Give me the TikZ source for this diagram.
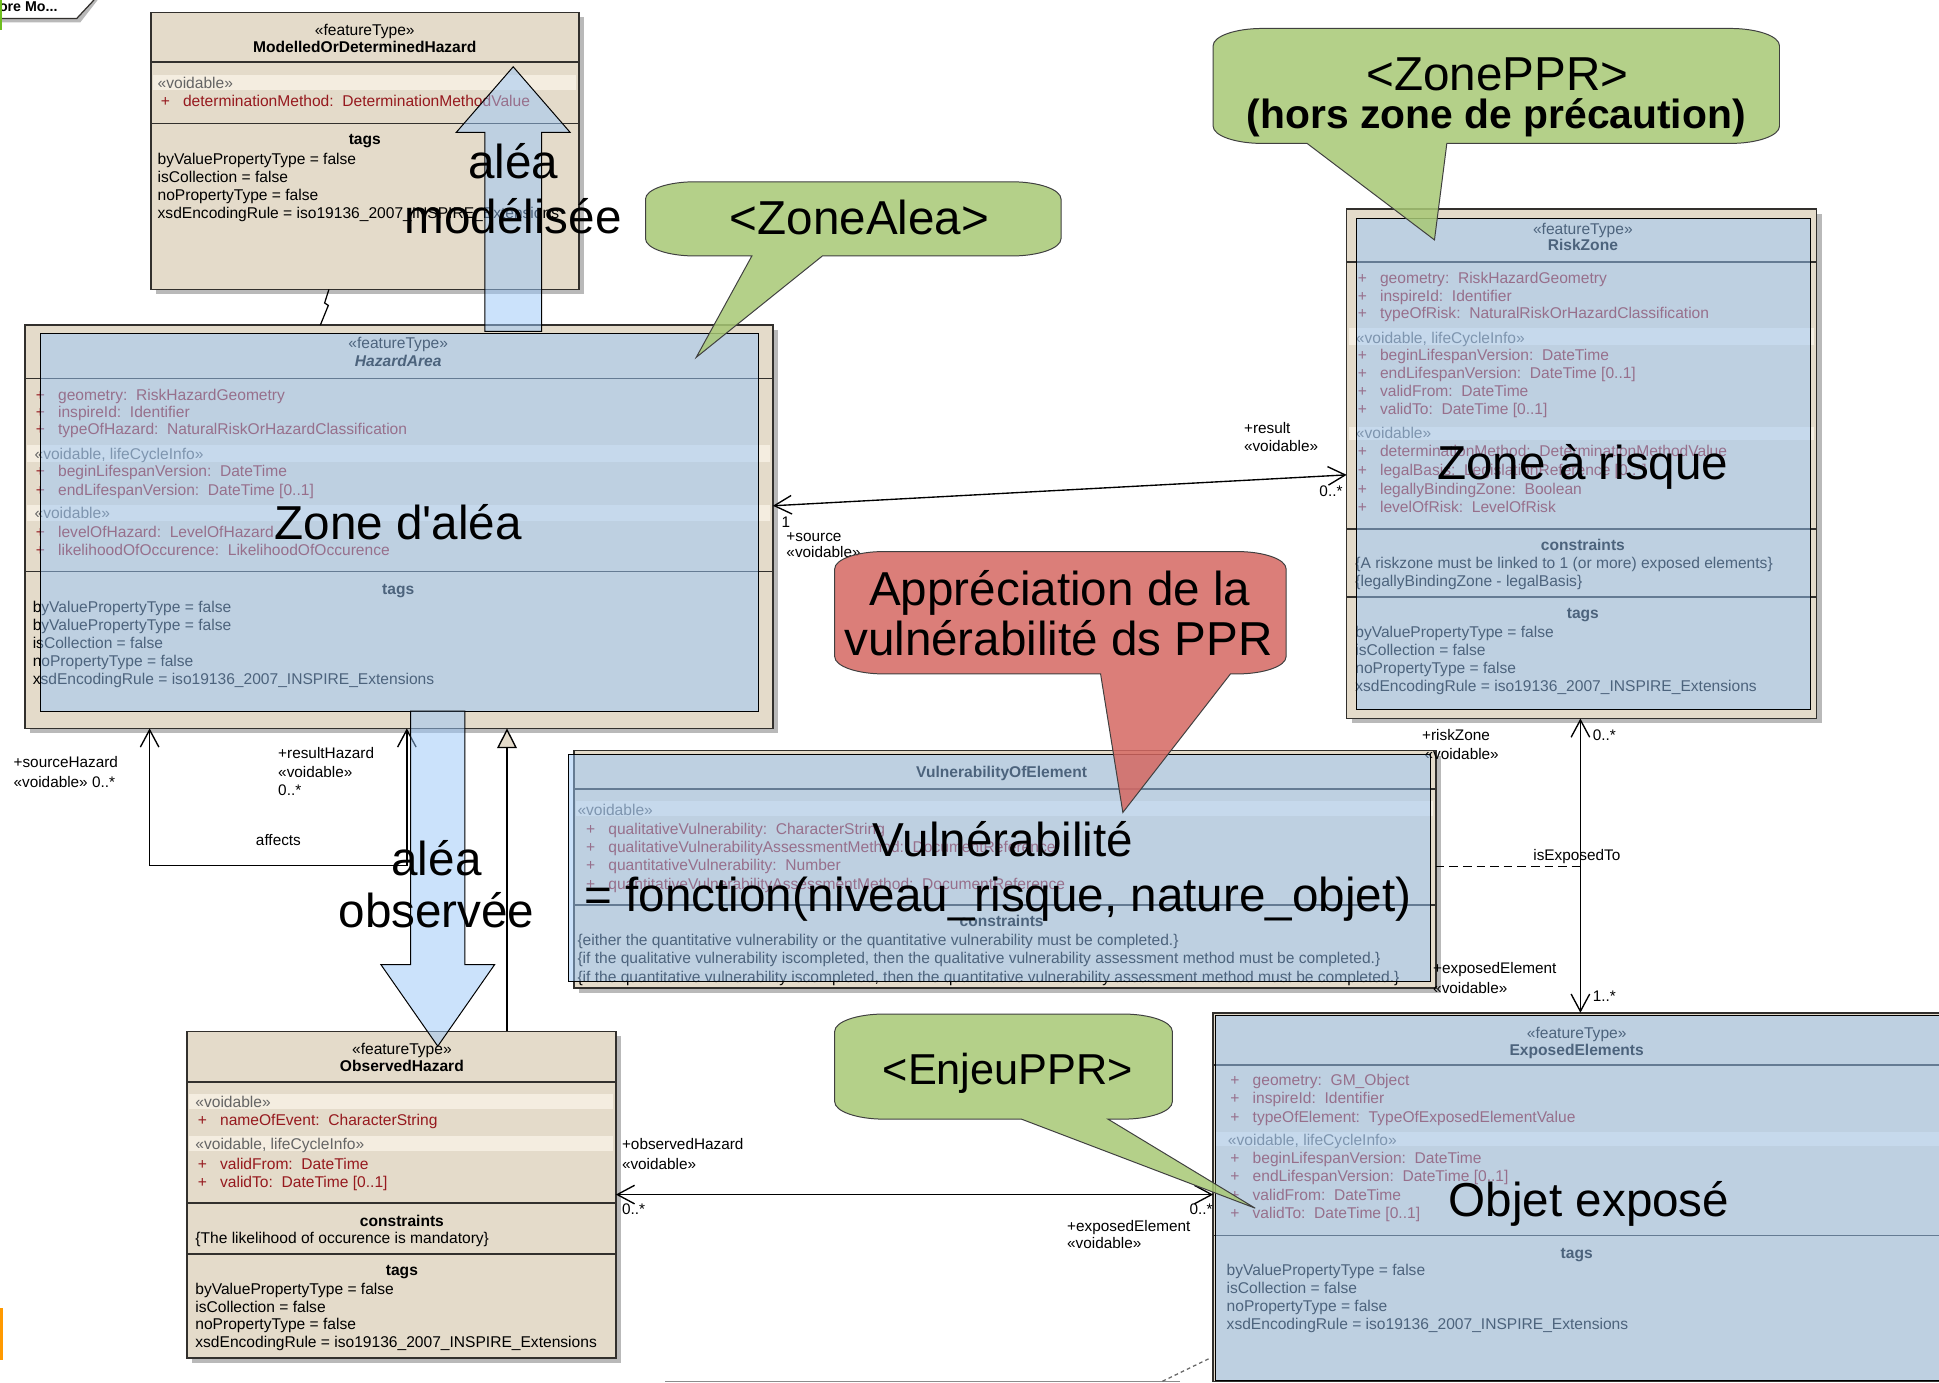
\documentclass[tikz,border=0pt]{standalone}
\usepackage{fontspec}
\setmainfont{Liberation Sans}
\usetikzlibrary{arrows.meta,calc}
\definecolor{beige}{RGB}{228,219,202}
\definecolor{bandbeige}{RGB}{244,237,224}
\definecolor{boxline}{RGB}{50,48,45}
\definecolor{attrred}{RGB}{150,25,30}
\definecolor{stereo}{RGB}{100,100,100}
\definecolor{ovblue}{RGB}{153,198,249}
\definecolor{callgreen}{RGB}{168,200,117}
\definecolor{callred}{RGB}{213,104,98}
\definecolor{shadowgrey}{RGB}{185,185,185}
\definecolor{pkggreen}{RGB}{110,190,30}
\newcommand\pl{\makebox[18pt][l]{+}}
\newcommand\cbrx{40}
\newcommand\cbry{14}
\newcommand\calloutpath[9]{%
  \path[#1] (#6,#5) -- (#8,#9) -- (#7,#5) -- ({#4-\cbrx},#5)
   .. controls ({#4-0.448*\cbrx},#5) and (#4,{#5-0.448*\cbry}) .. (#4,{#5-\cbry})
   -- (#4,{#3+\cbry})
   .. controls (#4,{#3+0.448*\cbry}) and ({#4-0.448*\cbrx},#3) .. ({#4-\cbrx},#3)
   -- ({#2+\cbrx},#3)
   .. controls ({#2+0.448*\cbrx},#3) and (#2,{#3+0.448*\cbry}) .. (#2,{#3+\cbry})
   -- (#2,{#5-\cbry})
   .. controls (#2,{#5-0.448*\cbry}) and ({#2+0.448*\cbrx},#5) .. ({#2+\cbrx},#5)
   -- cycle;}
\begin{document}
\begin{tikzpicture}[x=1pt,y=-1pt,
  txt/.style={inner sep=0pt, outer sep=0pt, anchor=base west, align=left, font=\fontsize{12.6}{14.5}\selectfont},
  txtc/.style={inner sep=0pt, outer sep=0pt, anchor=base, font=\fontsize{12.6}{14.5}\selectfont},
  hdr/.style={inner sep=0pt, outer sep=0pt, anchor=base, font=\bfseries\fontsize{12.6}{14.5}\selectfont},
  ls14/.style={font=\fontsize{12.6}{14}\selectfont},
  ls15/.style={font=\fontsize{12.6}{15}\selectfont},
  attr/.style={text=attrred},
  ster/.style={text=stereo},
  lbl/.style={inner sep=0pt, outer sep=0pt, anchor=base west, font=\fontsize{12.4}{15}\selectfont},
  bigb/.style={inner sep=0pt, outer sep=0pt, anchor=base, font=\fontsize{38.5}{44}\selectfont},
  umlbox/.style={draw=boxline, line width=1.3pt, fill=beige, inner sep=0pt, outer sep=0pt, anchor=north west},
  div/.style={draw=boxline, line width=1.3pt},
  ovl/.style={fill=ovblue, fill opacity=0.5, draw=black, line width=0.7pt},
  barrow/.style={fill=ovblue, fill opacity=0.5, draw=black, line width=0.8pt},
  assoc/.style={draw=black, line width=1.1pt, {Straight Barb[length=14pt,width=15pt]}-{Straight Barb[length=14pt,width=15pt]}},
  gen/.style={draw=black, line width=1.1pt, -{Triangle[length=16pt,width=16pt,fill=beige]}},
  callG/.style={fill=callgreen, fill opacity=0.85, draw=black!75, line width=0.8pt},
  callR/.style={fill=callred, fill opacity=0.85, draw=black!75, line width=0.8pt}]
\useasboundingbox (0,0) rectangle (1568,1118);
\fill[white] (0,0) rectangle (1568,1118);

% package tab
\fill[shadowgrey] (0,15) -- (62,15) -- (76,0) -- (79,0) -- (65,18) -- (0,18) -- cycle;
\draw[line width=1pt, boxline] (0,15) -- (62,15) -- (76,0);
\node[inner sep=0pt, anchor=base west, font=\bfseries\fontsize{11.5}{13}\selectfont] (pkg) at (-1,9.5) {ore Mo...};
\fill[pkggreen] (0,0) rectangle (2,24);
\fill[orange!80!yellow] (0,1058) rectangle (2.5,1100);

% ---------- Box A : ModelledOrDeterminedHazard
\fill[shadowgrey] (126,14) rectangle (472,238);
\node[umlbox, minimum width=346pt, minimum height=224pt] (A) at (122,10) {};
\fill[bandbeige] (124,61) rectangle (466,73);
\draw[div] (122,50) -- (468,50);
\draw[div] (122,100) -- (468,100);
\node[txtc] (Ast) at (295,28.5) {«featureType»};
\node[hdr] (Anm) at (295,42.5) {ModelledOrDeterminedHazard};
\node[txt, ster] (Avd) at (127.5,71.5) {«voidable»};
\node[txt, attr] (Aat) at (130,86.5) {\pl determinationMethod:\ \ DeterminationMethodValue};
\node[hdr] (Atg) at (295,116.5) {tags};
\node[txt] (Atl) at (127.5,176.5) {byValuePropertyType = false\\isCollection = false\\noPropertyType = false\\xsdEncodingRule = iso19136\_2007\_INSPIRE\_Extensions};

% ---------- Box B : HazardArea
\fill[shadowgrey] (24,267) rectangle (629,593);
\node[umlbox, minimum width=605pt, minimum height=326pt] (B) at (20,263) {};
\fill[bandbeige] (22,360) rectangle (623,374);
\fill[bandbeige] (22,408) rectangle (623,421);
\draw[div] (20,306) -- (625,306);
\draw[div] (20,462) -- (625,462);
\node[txtc] (Bst) at (322,281.5) {«featureType»};
\node[hdr] (Bnm) at (322,296.5) {\itshape HazardArea};
\node[txt, attr, ls14] (Ba1) at (29,351.5) {\pl geometry:\ \ RiskHazardGeometry\\\pl inspireId:\ \ Identifier\\\pl typeOfHazard:\ \ NaturalRiskOrHazardClassification};
\node[txt, ster] (Bs2) at (28,371.5) {«voidable, lifeCycleInfo»};
\node[txt, attr, ls15] (Ba2) at (29,400.5) {\pl beginLifespanVersion:\ \ DateTime\\\pl endLifespanVersion:\ \ DateTime [0..1]};
\node[txt, ster] (Bs3) at (28,419.5) {«voidable»};
\node[txt, attr, ls15] (Ba3) at (29,449.5) {\pl levelOfHazard:\ \ LevelOfHazard\\\pl likelihoodOfOccurence:\ \ LikelihoodOfOccurence};
\node[hdr] (Btg) at (322,480.5) {tags};
\node[txt] (Btl) at (26.5,553.5) {byValuePropertyType = false\\byValuePropertyType = false\\isCollection = false\\noPropertyType = false\\xsdEncodingRule = iso19136\_2007\_INSPIRE\_Extensions};

% ---------- Box C : RiskZone
\fill[shadowgrey] (1093,173) rectangle (1473,585);
\node[umlbox, minimum width=380pt, minimum height=412pt] (C) at (1089,169) {};
\fill[bandbeige] (1091,265) rectangle (1467,279);
\fill[bandbeige] (1091,345) rectangle (1467,356);
\draw[div] (1089,212) -- (1469,212);
\draw[div] (1089,428) -- (1469,428);
\draw[div] (1089,483) -- (1469,483);
\node[txtc] (Cst) at (1280,189.5) {«featureType»};
\node[hdr] (Cnm) at (1280,202.5) {RiskZone};
\node[txt, attr, ls14] (Ca1) at (1098,257.5) {\pl geometry:\ \ RiskHazardGeometry\\\pl inspireId:\ \ Identifier\\\pl typeOfRisk:\ \ NaturalRiskOrHazardClassification};
\node[txt, ster] (Cs2) at (1096.5,277.5) {«voidable, lifeCycleInfo»};
\node[txt, attr] (Ca2) at (1098,335) {\pl beginLifespanVersion:\ \ DateTime\\\pl endLifespanVersion:\ \ DateTime [0..1]\\\pl validFrom:\ \ DateTime\\\pl validTo:\ \ DateTime [0..1]};
\node[txt, ster] (Cs3) at (1096.5,354.5) {«voidable»};
\node[txt, attr, ls15] (Ca3) at (1098,414.5) {\pl determinationMethod:\ \ DeterminationMethodValue\\\pl legalBasis:\ \ LegislationReference [0..*]\\\pl legallyBindingZone:\ \ Boolean\\\pl levelOfRisk:\ \ LevelOfRisk};
\node[hdr] (Cco) at (1280,445.5) {constraints};
\node[txt, ls15] (Ccl) at (1096,474.5) {\{A riskzone must be linked to 1 (or more) exposed elements\}\\\{legallyBindingZone - legalBasis\}};
\node[hdr] (Ctg) at (1280,500.5) {tags};
\node[txt] (Ctl) at (1096,559) {byValuePropertyType = false\\isCollection = false\\noPropertyType = false\\xsdEncodingRule = iso19136\_2007\_INSPIRE\_Extensions};

% ---------- Box D : VulnerabilityOfElement
\fill[shadowgrey] (468,611) rectangle (1165,803);
\node[umlbox, minimum width=697pt, minimum height=192pt] (D) at (464,607) {};
\fill[bandbeige] (466,648) rectangle (1159,660);
\draw[div] (464,638) -- (1161,638);
\draw[div] (464,732) -- (1161,732);
\node[hdr] (Dnm) at (810,629) {VulnerabilityOfElement};
\node[txt, ster] (Ds1) at (467,659.5) {«voidable»};
\node[txt, attr, font=\fontsize{12.6}{14.8}\selectfont] (Da1) at (474,718.9) {\pl qualitativeVulnerability:\ \ CharacterString\\\pl qualitativeVulnerabilityAssessmentMethod:\ \ DocumentReference\\\pl quantitativeVulnerability:\ \ Number\\\pl quantitativeVulnerabilityAssessmentMethod:\ \ DocumentReference};
\node[hdr] (Dco) at (810,749.5) {constraints};
\node[txt, ls15] (Dcl) at (467,794.5) {\{either the quantitative vulnerability or the quantitative vulnerability must be completed.\}\\\{if the qualitative vulnerability iscompleted, then the qualitative vulnerability assessment method must be completed.\}\\\{if the quantitative vulnerability iscompleted, then the quantitative vulnerability assessment method must be completed.\}};

% ---------- Box E : ObservedHazard
\fill[shadowgrey] (155,838) rectangle (502,1102);
\node[umlbox, minimum width=347pt, minimum height=264pt] (E) at (151,834) {};
\fill[bandbeige] (153,885) rectangle (496,897);
\fill[bandbeige] (153,919) rectangle (496,931);
\draw[div] (151,875) -- (498,875);
\draw[div] (151,973) -- (498,973);
\draw[div] (151,1014) -- (498,1014);
\node[txtc] (Est) at (325,852.5) {«featureType»};
\node[hdr] (Enm) at (325,866.5) {ObservedHazard};
\node[txt, ster] (Es1) at (158,895.5) {«voidable»};
\node[txt, attr] (Ea1) at (160,910.5) {\pl nameOfEvent:\ \ CharacterString};
\node[txt, ster] (Es2) at (158,929.5) {«voidable, lifeCycleInfo»};
\node[txt, attr, ls15] (Ea2) at (160,960.5) {\pl validFrom:\ \ DateTime\\\pl validTo:\ \ DateTime [0..1]};
\node[hdr] (Eco) at (325,991.5) {constraints};
\node[txt] (Ecl) at (158,1005.5) {\{The likelihood of occurence is mandatory\}};
\node[hdr] (Etg) at (325,1031.5) {tags};
\node[txt] (Etl) at (158,1090) {byValuePropertyType = false\\isCollection = false\\noPropertyType = false\\xsdEncodingRule = iso19136\_2007\_INSPIRE\_Extensions};

% ---------- Box F : ExposedElements
\node[umlbox, minimum width=600pt, minimum height=298pt] (F) at (981,819) {};
\fill[bandbeige] (983,915) rectangle (1579,927);
\draw[div] (981,861) -- (1581,861);
\draw[div] (981,999) -- (1581,999);
\node[txtc] (Fst) at (1275,839.5) {«featureType»};
\node[hdr] (Fnm) at (1275,853.5) {ExposedElements};
\node[txt, attr, ls15] (Fa1) at (995,907.5) {\pl geometry:\ \ GM\_Object\\\pl inspireId:\ \ Identifier\\\pl typeOfElement:\ \ TypeOfExposedElementValue};
\node[txt, ster] (Fs2) at (993,926.5) {«voidable, lifeCycleInfo»};
\node[txt, attr, ls15] (Fa2) at (995,985.5) {\pl beginLifespanVersion:\ \ DateTime\\\pl endLifespanVersion:\ \ DateTime [0..1]\\\pl validFrom:\ \ DateTime\\\pl validTo:\ \ DateTime [0..1]};
\node[hdr] (Ftg) at (1275,1017.5) {tags};
\node[txt] (Ftl) at (992,1075) {byValuePropertyType = false\\isCollection = false\\noPropertyType = false\\xsdEncodingRule = iso19136\_2007\_INSPIRE\_Extensions};

% ---------- connectors
\draw[assoc] ($(B.north east)+(0,146)$) -- ($(C.north west)+(0,215)$);
\draw[assoc] ($(B.south west)+(101,0)$) -- ++(0,111) -| ($(B.south west)+(309,0)$);
\draw[gen] ($(E.north west)+(259,0)$) -- ($(B.south west)+(390,0)$);
\draw[assoc] ($(C.south west)+(189,0)$) -- ($(F.north west)+(297,0)$);
\coordinate (cfm) at ($(C.south west)+(189,120)$);
\draw[line width=1pt, dash pattern=on 7pt off 4pt] ($(D.north east)+(0,94)$) -- (cfm);
\draw[assoc] ($(E.north east)+(0,132)$) -- ($(F.north west)+(0,147)$);
\draw[line width=1pt] ($(A.south west)+(144,0)$) -- ++(-3.5,11) -- ++(3,2) -- ($(B.north west)+(239,0)$);
\draw[black!45, line width=0.8pt] (538,1117) -- (954,1117);
\draw[black!60, line width=1pt, dash pattern=on 3pt off 2.5pt] (940,1117) -- (979,1098);

% ---------- connector labels
\node[lbl] (l1) at (1006,350.5) {+result};
\node[lbl] (l2) at (1006,365.5) {«voidable»};
\node[lbl] (l3) at (1067,401.5) {0..*};
\node[lbl] (l4) at (632,426.5) {1};
\node[lbl] (l5) at (636,437.5) {+source};
\node[lbl] (l6) at (636,451) {«voidable»};
\node[lbl] (l7) at (11,620.5) {+sourceHazard};
\node[lbl] (l8) at (11,636.5) {«voidable» 0..*};
\node[lbl] (l9) at (225,613.5) {+resultHazard};
\node[lbl] (l10) at (225,628.5) {«voidable»};
\node[lbl] (l11) at (225,643.5) {0..*};
\node[lbl] (l12) at (207,683.5) {affects};
\node[lbl] (l13) at (1150,598.5) {+riskZone};
\node[lbl] (l14) at (1152,614) {«voidable»};
\node[lbl] (l15) at (1288,598.5) {0..*};
\node[lbl] (l16) at (1240,695.5) {isExposedTo};
\node[lbl] (l17) at (1159,787.5) {+exposedElement};
\node[lbl] (l18) at (1159,803) {«voidable»};
\node[lbl] (l19) at (1288,809.5) {1..*};
\node[lbl] (l20) at (503,929.5) {+observedHazard};
\node[lbl] (l21) at (503,945.5) {«voidable»};
\node[lbl] (l22) at (503,982.5) {0..*};
\node[lbl] (l23) at (962,982.5) {0..*};
\node[lbl] (l24) at (863,995.5) {+exposedElement};
\node[lbl] (l25) at (863,1009.5) {«voidable»};

% ---------- blue highlight overlays
\draw[ovl] (33,270) rectangle (613,575);
\draw[ovl] (1097,177) rectangle (1464,574);
\draw[ovl] (460,610) rectangle (1157,794);
\draw[ovl] (983,821) rectangle (1590,1116);

% ---------- big blue arrows
\draw[barrow] (392,268) -- (392,107) -- (369,107) -- (415,54) -- (461,107) -- (438,107) -- (438,268) -- cycle;
\draw[barrow] (332,575) -- (332,780) -- (308,780) -- (354,846) -- (400,780) -- (376,780) -- (376,575) -- cycle;

% ---------- callouts
\calloutpath{callG}{522}{147}{858}{207}{608}{665}{563}{289}
\calloutpath{callG}{981}{23}{1439}{116}{1057}{1170}{1160}{194}
\calloutpath{callR}{675}{446}{1040}{545}{890}{995}{908}{657}
\calloutpath{callG}{675}{820}{948}{905}{826}{896}{1015}{977}
\node[bigb] (cza) at (695,190) {<ZoneAlea>};
\node[bigb] (czp) at (1211,73) {<ZonePPR>};
\node[inner sep=0pt, anchor=base, font=\bfseries\fontsize{33}{38}\selectfont] (czp2) at (1210,104) {(hors zone de précaution)};
\node[bigb] (cr1) at (857,490) {Appréciation de la};
\node[bigb] (cr2) at (856,530) {vulnérabilité ds PPR};
\node[inner sep=0pt, anchor=base, font=\fontsize{35}{40}\selectfont] (cep) at (815,877) {<EnjeuPPR>};

% ---------- big labels
\node[bigb] (tB) at (322,436) {Zone d\textquotesingle aléa};
\node[bigb] (tC) at (1280,388) {Zone à risque};
\node[bigb] (tD1) at (811,693) {Vulnérabilité};
\node[bigb] (tD2) at (807,737) {= fonction(niveau\_risque, nature\_objet)};
\node[bigb] (tF) at (1285,984) {Objet exposé};
\node[bigb] (tu1) at (415,144) {aléa};
\node[bigb] (tu2) at (415,189) {modélisée};
\node[bigb] (td1) at (353,708) {aléa};
\node[bigb] (td2) at (353,750) {observée};
\end{tikzpicture}
\end{document}
